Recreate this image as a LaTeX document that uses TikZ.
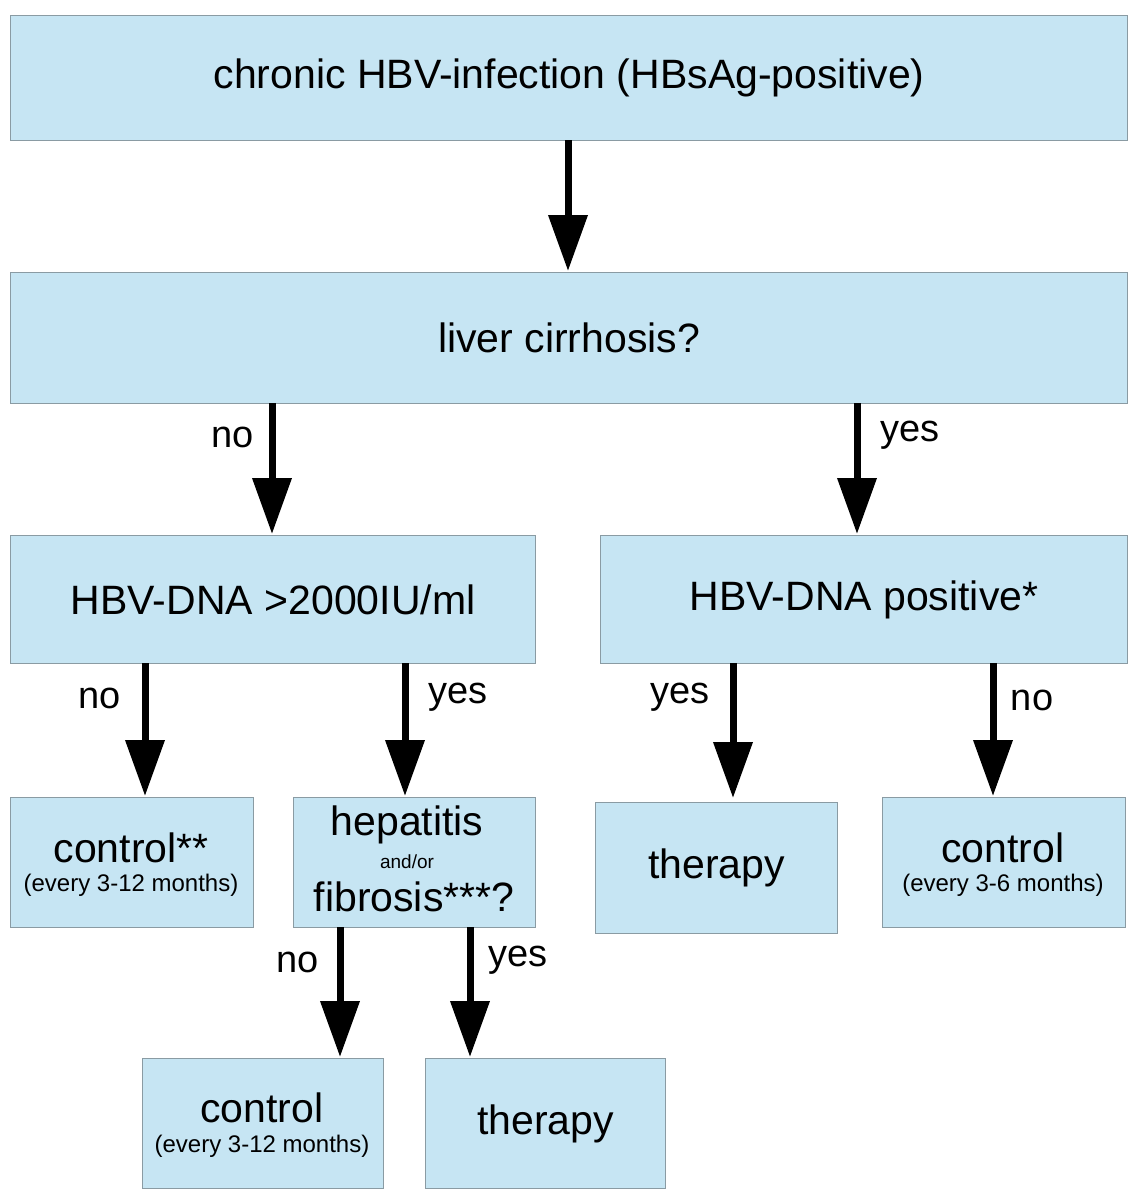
\documentclass[tikz,border=0pt]{standalone}
\usepackage{fontspec}
\setmainfont{Liberation Sans}
\usetikzlibrary{arrows.meta}
\definecolor{boxfill}{HTML}{C6E5F3}
\definecolor{boxline}{HTML}{8A9BA3}
\begin{document}
\begin{tikzpicture}[x=1pt,y=-1pt,
  box/.style={draw=boxline,line width=1.2pt,fill=boxfill,inner sep=0pt,anchor=north west},
  arr/.style={line width=7pt,-{Triangle[width=38pt,length=56pt]}},
  lbl/.style={font=\fontsize{38}{42}\selectfont},
  big/.style={font=\fontsize{41}{46}\selectfont},
  sm/.style={font=\fontsize{24}{28}\selectfont}]
\useasboundingbox (0,0) rectangle (1140,1200);
\node[box,minimum width=1117pt,minimum height=125pt] (top) at (10,15) {};
\node[big] at (top.center) {chronic HBV-infection (HBsAg-positive)};
\node[box,minimum width=1117pt,minimum height=131pt] (cir) at (10,272) {};
\node[big] at (cir.center) {liver cirrhosis?};
\node[box,minimum width=525pt,minimum height=128pt] (dna) at (10,535) {};
\node[big] at (dna.center) {HBV-DNA >2000IU/ml};
\node[box,minimum width=527pt,minimum height=128pt] (pos) at (600,535) {};
\node[big] at (pos.center) {HBV-DNA positive*};
\node[box,minimum width=243pt,minimum height=130pt] (c1) at (10,797) {};
\node[big] at (131,848) {control**};
\node[sm] at (131,885) {(every 3-12 months)};
\node[box,minimum width=242pt,minimum height=130pt] (hep) at (293,797) {};
\node[big] at (407,825) {hepatitis};
\node[font=\fontsize{19}{22}\selectfont] at (407,862) {and/or};
\node[big] at (414,897) {fibrosis***?};
\node[box,minimum width=242pt,minimum height=131pt] (t1) at (595,802) {};
\node[big] at (t1.center) {therapy};
\node[box,minimum width=243pt,minimum height=130pt] (c2) at (882,797) {};
\node[big] at (1003,848) {control};
\node[sm] at (1003,885) {(every 3-6 months)};
\node[box,minimum width=241pt,minimum height=130pt] (c3) at (142,1058) {};
\node[big] at (262,1108) {control};
\node[sm] at (262,1146) {(every 3-12 months)};
\node[box,minimum width=240pt,minimum height=130pt] (t2) at (425,1058) {};
\node[big] at (t2.center) {therapy};
\coordinate (a1) at (568,140); \coordinate (b1) at (568,271);
\draw[arr] (a1) -- (b1);
\coordinate (a2) at (272,403); \coordinate (b2) at (272,534);
\draw[arr] (a2) -- (b2); \node[lbl] at (233,437) {no};
\coordinate (a3) at (857,403); \coordinate (b3) at (857,534);
\draw[arr] (a3) -- (b3); \node[lbl] at (910,435) {yes};
\coordinate (a4) at (145,663); \coordinate (b4) at (145,796);
\draw[arr] (a4) -- (b4); \node[lbl] at (100,698) {no};
\coordinate (a5) at (405,663); \coordinate (b5) at (405,796);
\draw[arr] (a5) -- (b5); \node[lbl] at (458,697) {yes};
\coordinate (a6) at (733,663); \coordinate (b6) at (733,798);
\draw[arr] (a6) -- (b6); \node[lbl] at (680,697) {yes};
\coordinate (a7) at (993,663); \coordinate (b7) at (993,796);
\draw[arr] (a7) -- (b7); \node[lbl] at (1032,700) {no};
\coordinate (a8) at (340,927); \coordinate (b8) at (340,1057);
\draw[arr] (a8) -- (b8); \node[lbl] at (298,962) {no};
\coordinate (a9) at (470,927); \coordinate (b9) at (470,1057);
\draw[arr] (a9) -- (b9); \node[lbl] at (518,960) {yes};
\end{tikzpicture}
\end{document}
